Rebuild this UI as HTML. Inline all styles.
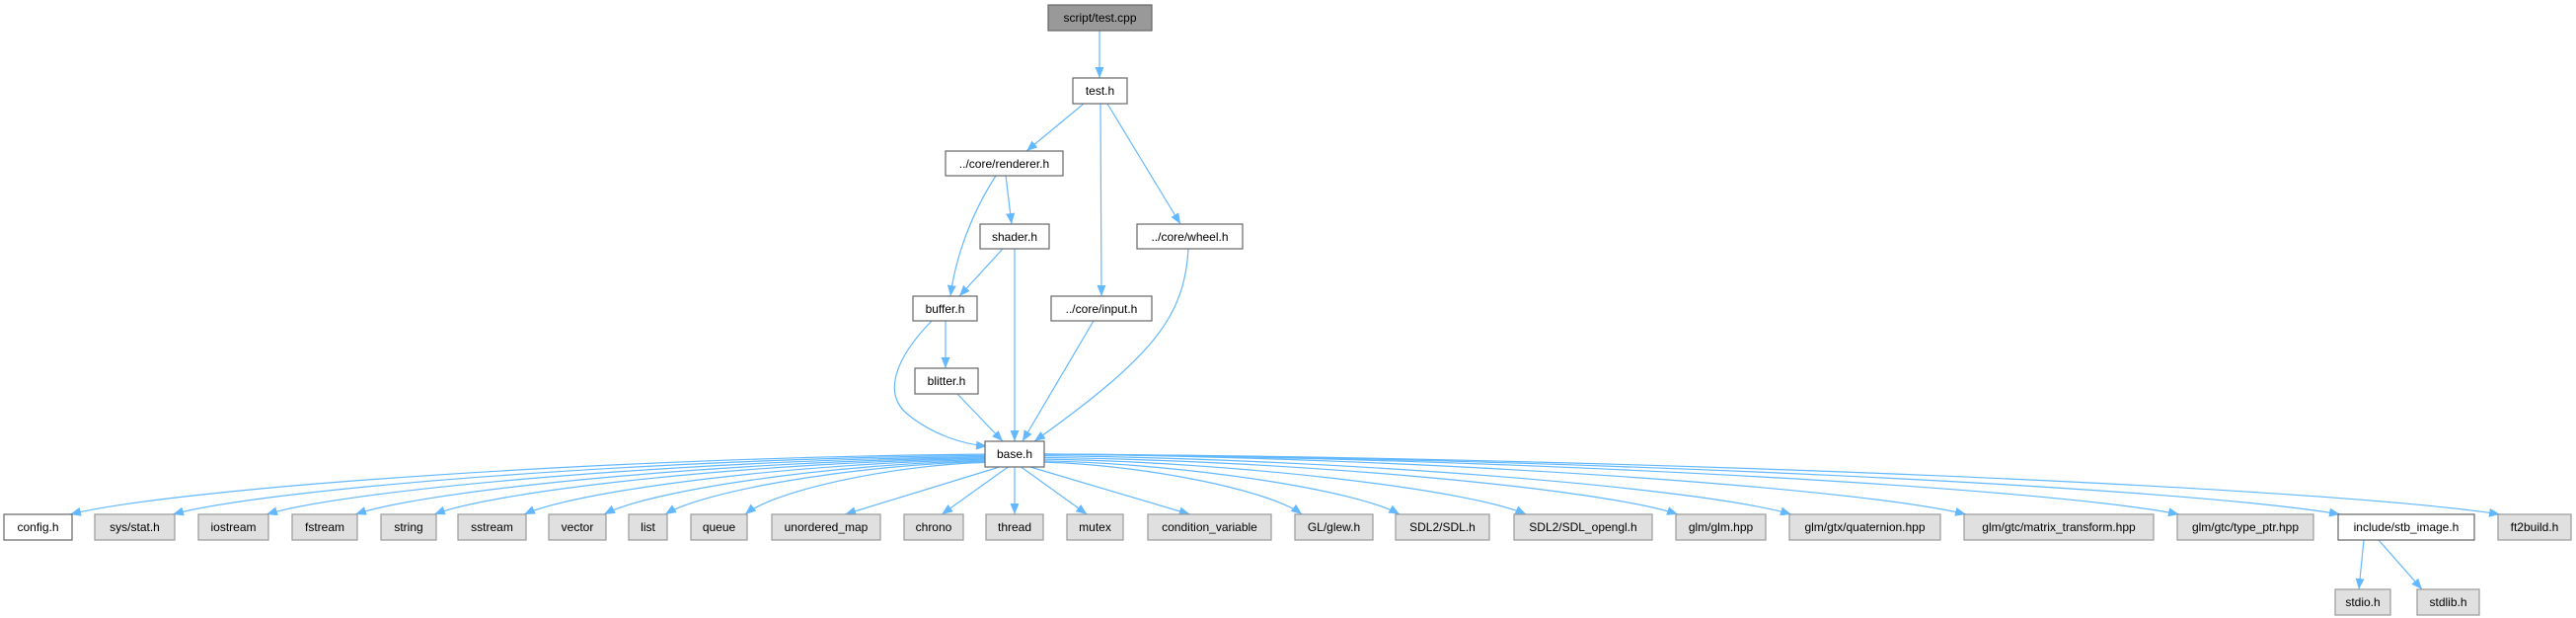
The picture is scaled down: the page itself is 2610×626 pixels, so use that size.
<!DOCTYPE html>
<html><head><meta charset="utf-8"><style>
html,body{margin:0;padding:0;background:#fff;}
svg{display:block;}
text{font-family:"Liberation Sans",Helvetica,Arial,sans-serif;font-size:12px;fill:#000;text-anchor:middle;}
.w{fill:#fff;stroke:#666;stroke-width:1.2}
.g{fill:#e0e0e0;stroke:#999;stroke-width:1.2}
.r{fill:#999;stroke:#666;stroke-width:1.2}
.e{fill:none;stroke:#63b8ff;stroke-width:1.2}
</style></head><body>
<svg id="s" width="2610" height="626" viewBox="0 0 2610 626" xmlns="http://www.w3.org/2000/svg">
<defs><marker id="a" markerUnits="userSpaceOnUse" markerWidth="12" markerHeight="10" refX="11" refY="4.5" orient="auto"><path d="M0,0 L11,4.5 L0,9 z" fill="#63b8ff"/></marker></defs>
<g id="edges">
<path class="e" marker-end="url(#a)" d="M1114,31 L1114,79"/>
<path class="e" marker-end="url(#a)" d="M1098,105 L1040,153"/>
<path class="e" marker-end="url(#a)" d="M1115,105 L1116,300"/>
<path class="e" marker-end="url(#a)" d="M1122,105 L1196,227"/>
<path class="e" marker-end="url(#a)" d="M1019,178 L1025,227"/>
<path class="e" marker-end="url(#a)" d="M1009,178 C985,215 968,260 963,300"/>
<path class="e" marker-end="url(#a)" d="M1016,252 L972,300"/>
<path class="e" marker-end="url(#a)" d="M1028,252 L1028,447"/>
<path class="e" marker-end="url(#a)" d="M958,325 L958,373"/>
<path class="e" marker-end="url(#a)" d="M944,325 C905,365 895,400 920,420 C945,440 975,450 1000,452"/>
<path class="e" marker-end="url(#a)" d="M970,399 L1016,447"/>
<path class="e" marker-end="url(#a)" d="M1108,325 L1036,447"/>
<path class="e" marker-end="url(#a)" d="M1204,252 C1200,320 1170,360 1048,447"/>
<path class="e" marker-end="url(#a)" d="M2395,547 L2390,597"/>
<path class="e" marker-end="url(#a)" d="M2410,547 L2454,597"/>
</g>
<rect class="r" x="1062" y="5" width="105" height="26"/><text x="1114.5" y="22">script/test.cpp</text>
<rect class="w" x="1087" y="79" width="55" height="26"/><text x="1114.5" y="96">test.h</text>
<rect class="w" x="958" y="153" width="119" height="25"/><text x="1017.5" y="170">../core/renderer.h</text>
<rect class="w" x="993" y="227" width="70" height="25"/><text x="1028" y="244">shader.h</text>
<rect class="w" x="1152" y="227" width="107" height="25"/><text x="1205.5" y="244">../core/wheel.h</text>
<rect class="w" x="925" y="300" width="65" height="25"/><text x="957.5" y="317">buffer.h</text>
<rect class="w" x="1065" y="300" width="102" height="25"/><text x="1116" y="317">../core/input.h</text>
<rect class="w" x="927" y="373" width="64" height="26"/><text x="959" y="390">blitter.h</text>
<rect class="w" x="998" y="447" width="60" height="26"/><text x="1028" y="464">base.h</text>
<g id="bottom"></g>
<rect class="g" x="2366" y="597" width="56" height="26"/><text x="2394" y="614">stdio.h</text>
<rect class="g" x="2449" y="597" width="63" height="26"/><text x="2480.5" y="614">stdlib.h</text>
</svg>
<script>
(function(){
var nodes=[["config.h",4,73,1],["sys/stat.h",96,177],["iostream",201,272],["fstream",296,362],["string",386,442],["sstream",464,533],["vector",556,614],["list",637,676],["queue",700,757],["unordered_map",782,892],["chrono",916,976],["thread",999,1057],["mutex",1081,1138],["condition_variable",1163,1288],["GL/glew.h",1312,1391],["SDL2/SDL.h",1414,1509],["SDL2/SDL_opengl.h",1534,1674],["glm/glm.hpp",1698,1789],["glm/gtx/quaternion.hpp",1813,1966],["glm/gtc/matrix_transform.hpp",1990,2182],["glm/gtc/type_ptr.hpp",2206,2344],["include/stb_image.h",2369,2507,1],["ft2build.h",2531,2605]];
var NS="http://www.w3.org/2000/svg",b=document.getElementById("bottom"),eg=document.getElementById("edges");
var ty=521,h=26,bx=1028;
nodes.forEach(function(n){
 var r=document.createElementNS(NS,"rect");r.setAttribute("class",n[3]?"w":"g");
 r.setAttribute("x",n[1]);r.setAttribute("y",ty);r.setAttribute("width",n[2]-n[1]);r.setAttribute("height",h);b.appendChild(r);
 var t=document.createElementNS(NS,"text");t.setAttribute("x",(n[1]+n[2])/2);t.setAttribute("y",ty+17);t.textContent=n[0];b.appendChild(t);
 var cx=(n[1]+n[2])/2,hw=(n[2]-n[1])/2,dx=cx-bx,s=dx<0?-1:1;
 var ex=cx-s*Math.min(hw-2,Math.abs(dx)*0.1),ey=ty;
 var sx,sy,d;
 if(Math.abs(dx)>200){
  sx=s<0?998:1058;
  var k=Math.min(1,Math.abs(dx)/1000);
  sy=460+(1-k)*12;
  d="M"+sx+","+sy+" C"+(sx+(ex-sx)*0.4)+","+(sy+3)+" "+(ex-(ex-sx)*0.12)+","+(ey-(ey-sy)*0.45)+" "+ex+","+ey;
 } else {
  sx=bx+dx*0.08;sy=473;
  d="M"+sx+","+sy+" L"+ex+","+ey;
 }
 var p=document.createElementNS(NS,"path");p.setAttribute("class","e");p.setAttribute("marker-end","url(#a)");p.setAttribute("d",d);eg.appendChild(p);
});
})();
</script>
</body></html>
